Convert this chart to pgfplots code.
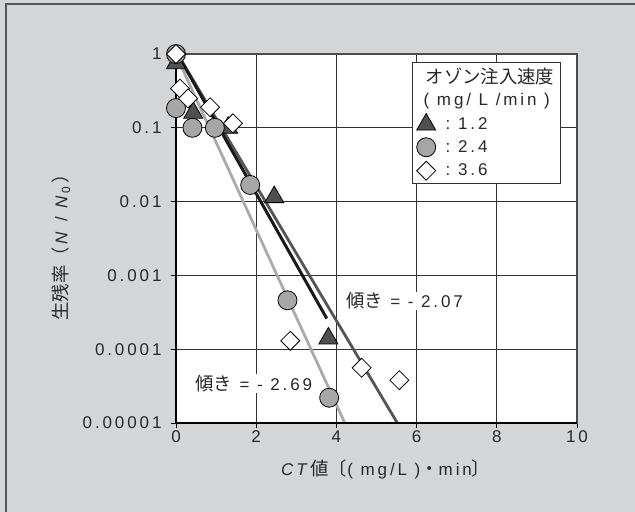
\documentclass[border=0pt]{standalone}
\usepackage{fontspec}
\setmainfont{Liberation Sans}[LetterSpace=17]
\newfontfamily\jp{Noto Sans CJK JP}[Scale=1.08]
\usepackage{pgfplots}
\pgfplotsset{compat=1.18}
\definecolor{bg}{RGB}{212,213,214}
\definecolor{frame}{RGB}{85,85,85}
\definecolor{tri}{RGB}{80,80,80}
\definecolor{circ}{RGB}{166,166,166}
\definecolor{lblack}{RGB}{25,25,25}
\definecolor{ldark}{RGB}{85,85,85}
\definecolor{llight}{RGB}{170,170,170}
\definecolor{txt}{RGB}{40,40,40}
\newcommand{\fs}{\fontsize{17bp}{20bp}\selectfont}

\begin{document}
\begin{tikzpicture}
\useasboundingbox (-176bp,-89bp) rectangle (459bp,423bp);
\fill[bg] (-176bp,-89bp) rectangle (459bp,423bp);
\draw[frame,line width=1.5bp] (-170bp,-89bp) -- (-170bp,419bp) -- (459bp,419bp);
\begin{axis}[
  scale only axis, width=401bp, height=369bp,
  at={(0,0)}, anchor=south west,
  xmin=0, xmax=10, ymin=1e-5, ymax=1, ymode=log,
  xtick={0,2,4,6,8,10}, xticklabels={0,2,4,6,8,10},
  ytick={1,0.1,0.01,0.001,0.0001,0.00001},
  yticklabels={1,0.1,0.01,0.001,0.0001,0.00001},
  yminorticks=false,
  grid=major, major grid style={draw=black!80, line width=0.8bp},
  tick align=outside, major tick length=5bp,
  tick style={black, line width=0.8bp},
  xtick pos=bottom, ytick pos=left,
  axis line style={draw=black!70, line width=1.2bp},
  axis background/.style={fill=white},
  tick label style={font=\fs, text=txt},
  yticklabel style={xshift=-6bp},
  xticklabel style={yshift=1bp},
  xlabel={\textit{CT}{\jp 値〔}( mg/L ){\jp ・}min{\jp 〕}},
  ylabel={{\jp 生残率（}\,\textit{N} / \textit{N}\textsubscript{0}\,{\jp ）}},
  label style={font=\fs, text=txt},
  xlabel style={at={(axis description cs:0.523,-0.125)}, anchor=center},
  ylabel style={at={(axis description cs:-0.287,0.488)}, anchor=center},
  clip=false,
  legend style={at={(0.589,0.978)}, anchor=north west, draw=black!80,
    line width=1bp, fill=white, font=\fs, text=txt, row sep=4.5bp,
    inner xsep=4bp, inner ysep=3bp},
  legend cell align=left,
]
\addlegendimage{empty legend}
\addlegendentry{\hspace{-12bp}{\jp オゾン注入速度}\hspace{6bp}}
\addlegendimage{empty legend}
\addlegendentry{\hspace{-14bp}( mg/ L /min )}

\addplot[only marks, mark=triangle*, mark size=11bp,
  mark options={fill=tri, draw=black, line width=0.8bp}]
  coordinates {(0,0.75) (0.43,0.16) (1.3,0.1) (2.45,0.0115) (3.8,0.00014)};
\addlegendentry{\hspace{8bp}:\ 1.2}
\addplot[only marks, mark=*, mark size=9.5bp,
  mark options={fill=circ, draw=black, line width=0.8bp}]
  coordinates {(0,1) (0,0.185) (0.41,0.1) (0.97,0.1) (1.85,0.0168) (2.78,0.00046) (3.82,0.000022)};
\addlegendentry{\hspace{8bp}:\ 2.4}
\addplot[only marks, mark=square*, mark size=6.7bp,
  mark options={fill=white, draw=black, line width=0.8bp, rotate=45}]
  coordinates {(0,1) (0.1,0.34) (0.3,0.25) (0.85,0.19) (1.42,0.115) (2.85,0.00013) (4.63,0.000056) (5.57,0.000038)};
\addlegendentry{\hspace{8bp}:\ 3.6}

\addplot[forget plot, llight, line width=2.8bp] coordinates {(0.05,0.85) (4.21,0.00001)};
\addplot[forget plot, ldark, line width=2.8bp] coordinates {(0.05,0.98) (5.52,0.00001)};
\addplot[forget plot, lblack, line width=3bp] coordinates {(0.05,0.97) (3.76,0.00026)};

\draw[black, line width=2.5bp] (rel axis cs:0,1) -- (rel axis cs:0,0) -- (rel axis cs:1,0);

\node[anchor=west, fill=white, inner sep=1bp, font=\fs, text=txt] at (axis cs:4.21,0.00045) {{\jp 傾き} = - 2.07};
\node[anchor=west, fill=white, inner sep=1bp, font=\fs, text=txt] at (axis cs:0.45,0.000034) {{\jp 傾き} = - 2.69};
\end{axis}
\end{tikzpicture}
\end{document}
